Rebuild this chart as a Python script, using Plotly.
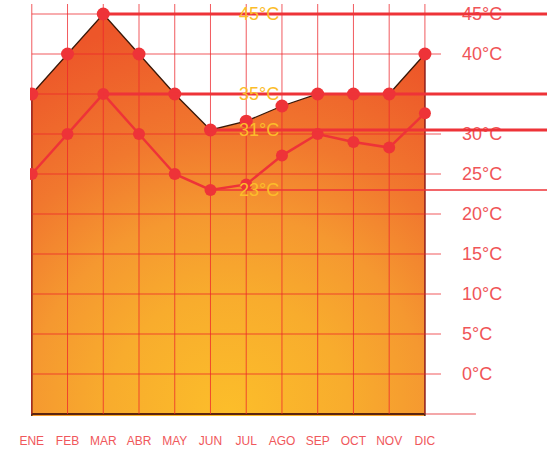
import plotly.graph_objects as go

# Monthly temperatures (°C)
months = ["ENE", "FEB", "MAR", "ABR", "MAY", "JUN", "JUL", "AGO", "SEP", "OCT", "NOV", "DIC"]
temp_max = [35, 40, 45, 40, 35, 30.5, 31.6, 33.5, 35, 35, 35, 40]
temp_min = [25, 30, 35, 30, 25, 23, 23.7, 27.3, 30, 29, 28.3, 32.6]
tick_values = [0, 5, 10, 15, 20, 25, 30, 35, 40, 45]
tick_labels = ["0°C", "5°C", "10°C", "15°C", "20°C", "25°C", "30°C", "", "40°C", "45°C"]

W, H = 547, 452
FLOOR = -5
X_RANGE = [-0.05, 11.45]
Y_RANGE = [-5.25, 46.25]
MARGIN = dict(l=30, r=106, t=4, b=34)
PLOT_W = W - MARGIN["l"] - MARGIN["r"]
PLOT_H = H - MARGIN["t"] - MARGIN["b"]

FONT = "Liberation Sans, Arial, sans-serif"
RED = "#EE3338"
GRID = "rgba(236,38,44,0.76)"
GOLD = "#FBBD2A"

idx = list(range(len(months)))


def deg(v):
    return f"{int(v + 0.5)}°C"


def paper_x(i):
    return (i - X_RANGE[0]) / (X_RANGE[1] - X_RANGE[0])


fig = go.Figure()

# Area under the monthly maxima. The outline continues below the visible floor
# (with a flat, zero-area run on both sides) so that the radial gradient's
# bounding box is centred on the floor line and is as wide as it is tall.
px_x = PLOT_W / (X_RANGE[1] - X_RANGE[0])
px_y = PLOT_H / (Y_RANGE[1] - Y_RANGE[0])
depth = FLOOR - (max(temp_max) - FLOOR)
half_h = (max(temp_max) - FLOOR) * px_y
half_span = half_h / px_x
mid = (idx[0] + idx[-1]) / 2
fig.add_trace(go.Scatter(
    x=idx + [idx[-1], mid + half_span, mid - half_span, idx[0], idx[0]],
    y=temp_max + [depth, depth, depth, depth, temp_max[0]],
    mode="lines", fill="toself",
    fillgradient=dict(type="radial", colorscale=[
        [0.0, "#FCBE2A"], [0.3, "#F8AC2D"], [0.5, "#F59830"],
        [0.7, "#F1782E"], [0.9, "#EE612B"], [1.0, "#ED5629"]]),
    line=dict(color="#3a1808", width=1.3),
    hoverinfo="skip", showlegend=False))

# floor edge of the area
fig.add_trace(go.Scatter(
    x=[idx[0], idx[-1]], y=[FLOOR, FLOOR], mode="lines",
    line=dict(color="#5a2410", width=2), hoverinfo="skip", showlegend=False))

# grid drawn over the area
gx, gy = [], []
for i in idx:
    gx += [i, i, None]
    gy += [FLOOR, Y_RANGE[1], None]
for v in tick_values:
    gx += [idx[0], X_RANGE[1], None]
    gy += [v, v, None]
fig.add_trace(go.Scatter(x=gx, y=gy, mode="lines", line=dict(color=GRID, width=1),
                         hoverinfo="skip", showlegend=False))

# monthly minima
fig.add_trace(go.Scatter(
    x=idx, y=temp_min, mode="lines+markers",
    line=dict(color=RED, width=2.5), marker=dict(color=RED, size=12),
    name="Mínima", showlegend=False))

# monthly maxima
fig.add_trace(go.Scatter(
    x=idx, y=temp_max, mode="markers",
    marker=dict(color=RED, size=13), name="Máxima", showlegend=False))

# reference levels: extremes of both series, running from their month to the edge
right_edge = (W - MARGIN["l"]) / PLOT_W
refs = [
    (max(temp_max), temp_max.index(max(temp_max)), 3),
    (max(temp_min), temp_min.index(max(temp_min)), 3),
    (min(temp_max), temp_max.index(min(temp_max)), 3),
    (min(temp_min), temp_min.index(min(temp_min)), 1.5),
]
for val, i, w in refs:
    fig.add_shape(type="line", xref="paper", yref="y",
                  x0=paper_x(i), x1=right_edge, y0=val, y1=val,
                  line=dict(color=RED, width=w), layer="above")
    fig.add_annotation(x=6, y=val, xref="x", yref="y", text=deg(val),
                       showarrow=False, xanchor="left", yanchor="middle", xshift=-9,
                       font=dict(family=FONT, size=18, color=GOLD))

# baseline continuing past the last month
fig.add_shape(type="line", xref="paper", yref="y",
              x0=paper_x(idx[0]), x1=paper_x(idx[-1]) + 51 / PLOT_W,
              y0=FLOOR, y1=FLOOR, line=dict(color="#F08A8C", width=1.5), layer="below")

fig.update_layout(
    width=W, height=H, margin=MARGIN,
    paper_bgcolor="white", plot_bgcolor="white",
    xaxis=dict(range=X_RANGE, tickvals=idx, ticktext=months, showgrid=False,
               zeroline=False, showline=False, ticks="", ticklabelstandoff=16,
               tickfont=dict(family=FONT, size=12, color="#F0575B")),
    yaxis=dict(range=Y_RANGE, side="right", tickvals=tick_values,
               ticktext=tick_labels, showgrid=False,
               zeroline=False, showline=False, ticks="", ticklabelstandoff=20,
               tickfont=dict(family=FONT, size=18, color="#F05458")),
)

fig.write_html("out.html")
